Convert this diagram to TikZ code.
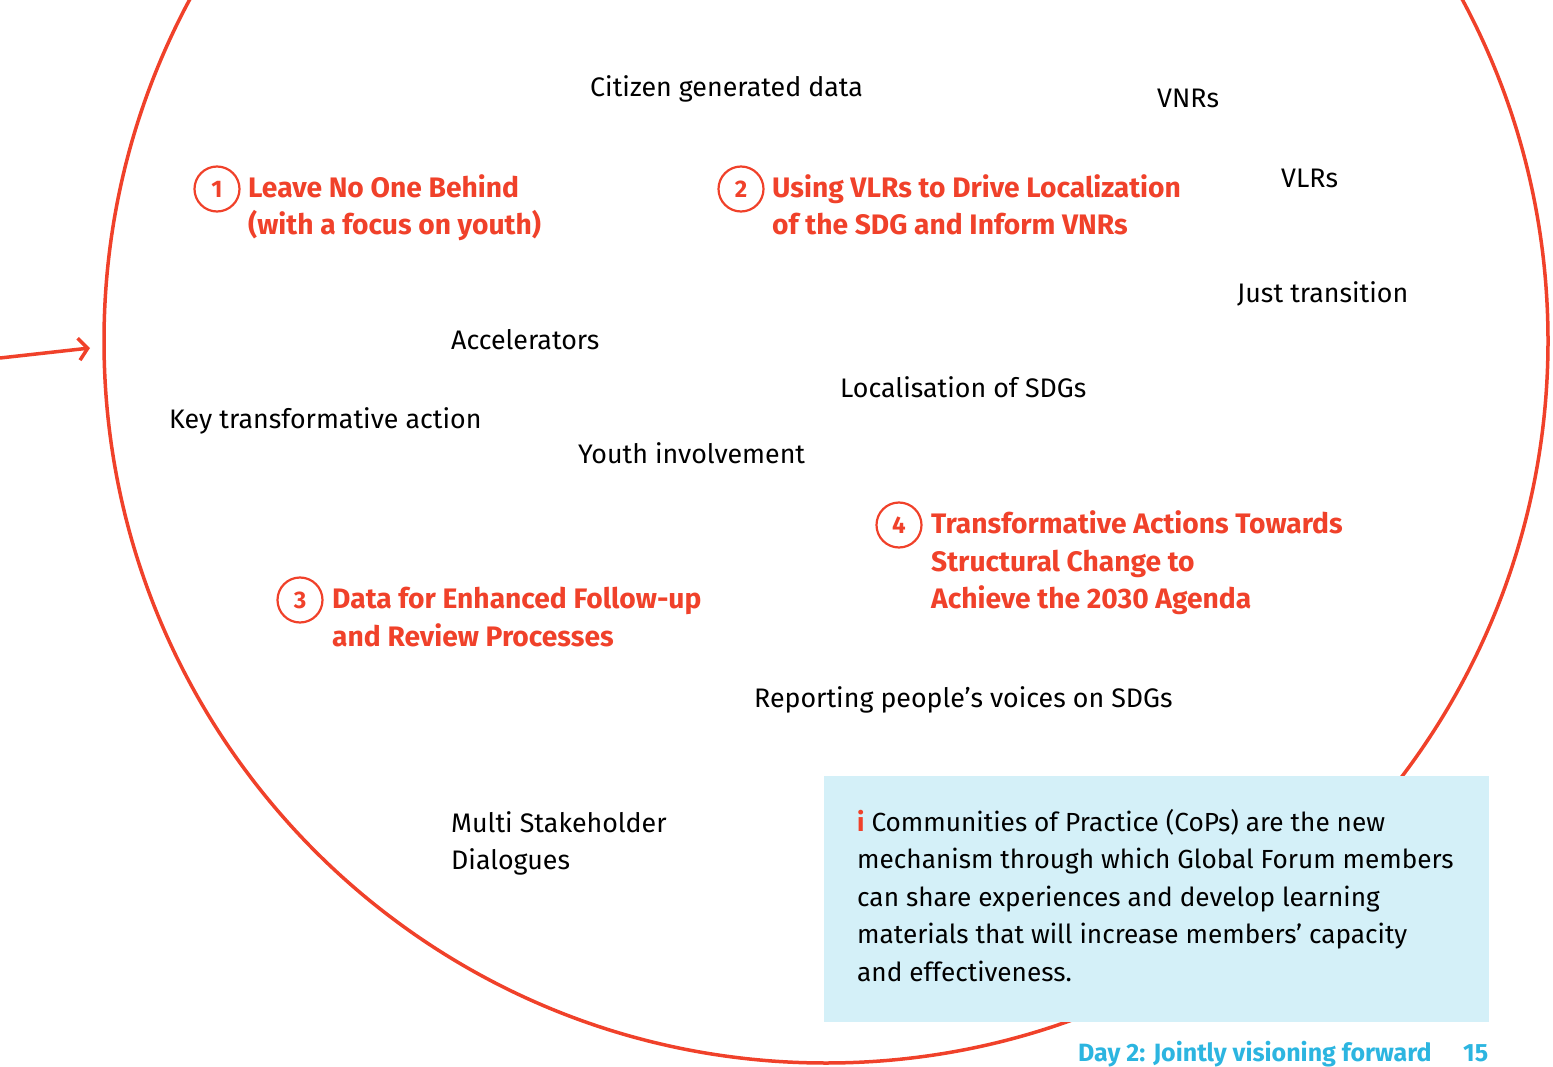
\documentclass[tikz,border=0pt]{standalone}
\usepackage{fontspec}
\setmainfont{Fira Sans}
\usetikzlibrary{arrows.meta}
\definecolor{cred}{HTML}{F0412A}
\definecolor{infoblue}{HTML}{D4F0F8}
\definecolor{footblue}{HTML}{2CB5E0}
\begin{document}
\begin{tikzpicture}[x=1pt,y=-1pt,
  % base west of a multi-line node sits on its last line
  lbl/.style={anchor=base west, inner sep=0pt, align=left, font=\fontsize{26.8}{37.5}\selectfont},
  hl/.style={lbl, text=cred, font=\fontsize{28.2}{37.5}\selectfont\bfseries},
  num/.style={circle, draw=cred, line width=2.2pt, minimum size=45pt, inner sep=0pt, text=cred,
              font=\fontsize{24}{24}\selectfont\bfseries},
  foot/.style={anchor=base west, inner sep=0pt, text=footblue, font=\fontsize{25}{25}\selectfont\bfseries}]
\useasboundingbox (0,0) rectangle (1553,1067);

% the big ring and the arrow pointing into it
\node (ring) [circle, draw=cred, line width=3.5pt, minimum size=1444pt, inner sep=0pt] at (826,341) {};
\coordinate (arrowtail) at (0,358);
\coordinate (arrowhead) at (90,348);
\draw[cred, line width=3.5pt, -{Straight Barb[length=9pt,width=22pt,line width=3.5pt]}] (arrowtail) -- (arrowhead);

% keywords
\node (citizen) [lbl] at (590,97) {Citizen generated data};
\node (vnrs)    [lbl] at (1157,108) {VNRs};
\node (vlrs)    [lbl] at (1281,188) {VLRs};
\node (just)    [lbl] at (1237,303) {Just transition};
\node (accel)   [lbl] at (451,349) {Accelerators};
\node (local)   [lbl] at (840,397) {Localisation of SDGs};
\node (keyact)  [lbl] at (169,428) {Key transformative action};
\node (youth)   [lbl] at (578,463) {Youth involvement};
\node (report)  [lbl] at (754,707) {Reporting people’s voices on SDGs};
\node (multi)   [lbl] at (451,869.5) {Multi Stakeholder\\Dialogues};

% numbered themes
\node (n1) [num] at (217,189) {1};
\node (t1) [hl] at (248,235) {Leave No One Behind\\(with a focus on youth)};
\node (n2) [num] at (741,189) {2};
\node (t2) [hl] at (772,235) {Using VLRs to Drive Localization\\of the SDG and Inform VNRs};
\node (n3) [num] at (300,600) {3};
\node (t3) [hl] at (332,646) {Data for Enhanced Follow-up\\and Review Processes};
\node (n4) [num] at (899,525) {4};
\node (t4) [hl] at (931,608.5) {Transformative Actions Towards\\Structural Change to\\Achieve the 2030 Agenda};

% info box
\node (info) [fill=infoblue, anchor=north west, minimum width=665pt, minimum height=246pt, inner sep=0pt] at (824,776) {};
\node (infotext) [lbl, font=\fontsize{26.2}{37.5}\selectfont] at (857,981) {{\color{cred}\bfseries i} Communities of Practice (CoPs) are the new\\mechanism through which Global Forum members\\can share experiences and develop learning\\materials that will increase members’ capacity\\and effectiveness.};

% running footer
\node (foottitle) [foot] at (1078,1061) {Day 2: Jointly visioning forward};
\node (pagenum)   [foot] at (1463,1061) {15};
\end{tikzpicture}
\end{document}
